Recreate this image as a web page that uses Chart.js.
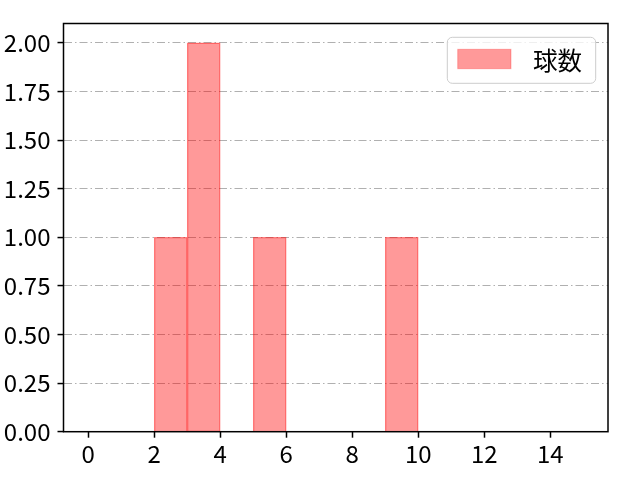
<!DOCTYPE html>
<html>
<head>
<meta charset="utf-8">
<script src="https://cdn.jsdelivr.net/npm/chart.js@4/dist/chart.umd.min.js"></script>
<style>
  html, body { margin: 0; padding: 0; background: #fff; }
  #wrap { width: 640px; height: 480px; }
</style>
</head>
<body>
<div id="wrap"><canvas id="myChart" width="640" height="480"></canvas></div>
<script>
// histogram bins (left edge of each bin, width 1) and their counts
const binStarts = [2, 3, 5, 9];
const counts = [1, 2, 1, 1];
const seriesLabel = '球数';

// tick labels
const xTicks = [0, 2, 4, 6, 8, 10, 12, 14];
const yTicks = [0, 0.25, 0.5, 0.75, 1.0, 1.25, 1.5, 1.75, 2.0];

const FONT = '"Noto Sans CJK JP", "Noto Sans", sans-serif';
const FSIZE = 24;

const points = binStarts.map((s, i) => ({ x: s + 0.5, y: counts[i] }));

// frame + legend drawn like matplotlib
const framePlugin = {
  id: 'frame',
  afterDatasetsDraw(chart) {
    const { ctx, chartArea: a } = chart;
    ctx.save();
    ctx.strokeStyle = '#000';
    ctx.lineWidth = 1.5;
    ctx.strokeRect(a.left, a.top, a.right - a.left, a.bottom - a.top);

    // legend box top right
    const bx = a.right - 12.3 - 148.4, by = a.top + 13.8, bw = 148.4, bh = 46;
    ctx.beginPath();
    ctx.roundRect(bx, by, bw, bh, 5);
    ctx.fillStyle = 'rgba(255,255,255,0.8)';
    ctx.fill();
    ctx.strokeStyle = '#cccccc';
    ctx.lineWidth = 1;
    ctx.stroke();

    ctx.fillStyle = 'rgba(255,0,0,0.4)';
    ctx.fillRect(bx + 10.4, by + 12, 53.3, 19.4);
    ctx.strokeStyle = 'rgba(255,0,0,0.25)';
    ctx.strokeRect(bx + 10.4, by + 12, 53.3, 19.4);

    ctx.fillStyle = '#000';
    ctx.font = '24.5px ' + FONT;
    ctx.textBaseline = 'middle';
    ctx.textAlign = 'left';
    ctx.fillText(chart.data.datasets[0].label, bx + 85.7, by + bh / 2);
    ctx.restore();
  }
};

const ctx = document.getElementById('myChart');

new Chart(ctx, {
  type: 'bar',
  data: {
    datasets: [{
      label: seriesLabel,
      data: points,
      backgroundColor: 'rgba(255, 0, 0, 0.4)',
      borderColor: 'rgba(255, 0, 0, 0.45)',
      borderWidth: 0.7,
      barPercentage: 1.0,
      categoryPercentage: 1.0
    }]
  },
  options: {
    responsive: false,
    animation: false,
    devicePixelRatio: 1,
    layout: { padding: { top: 23.5, right: 32, left: 0, bottom: 0 } },
    plugins: {
      legend: { display: false },
      tooltip: { enabled: false }
    },
    scales: {
      x: {
        type: 'linear',
        min: -0.75,
        max: 15.75,
        offset: false,
        afterBuildTicks: (s) => { s.ticks = xTicks.map(v => ({ value: v })); },
        afterFit: (s) => { s.height = 48.3; },
        grid: {
          offset: false,
          drawOnChartArea: false,
          drawTicks: true,
          tickLength: 6,
          tickWidth: 1.5,
          tickColor: '#000'
        },
        border: { display: false },
        ticks: {
          color: '#000',
          padding: 2,
          maxRotation: 0,
          autoSkip: false,
          font: { family: FONT, size: FSIZE }
        }
      },
      y: {
        min: 0,
        max: 2.1,
        afterBuildTicks: (s) => { s.ticks = yTicks.map(v => ({ value: v })); },
        afterFit: (s) => { s.width = 63.5; },
        grid: {
          color: '#b0b0b0',
          lineWidth: 1.1,
          drawTicks: true,
          tickLength: 6,
          tickWidth: 1.5,
          tickColor: '#000',
          tickBorderDash: []
        },
        border: { display: false, dash: [8, 3, 1.5, 3] },
        ticks: {
          color: '#000',
          padding: 7,
          autoSkip: false,
          font: { family: FONT, size: FSIZE },
          callback: (v) => Number(v).toFixed(2)
        }
      }
    }
  },
  plugins: [framePlugin]
});
</script>
</body>
</html>
